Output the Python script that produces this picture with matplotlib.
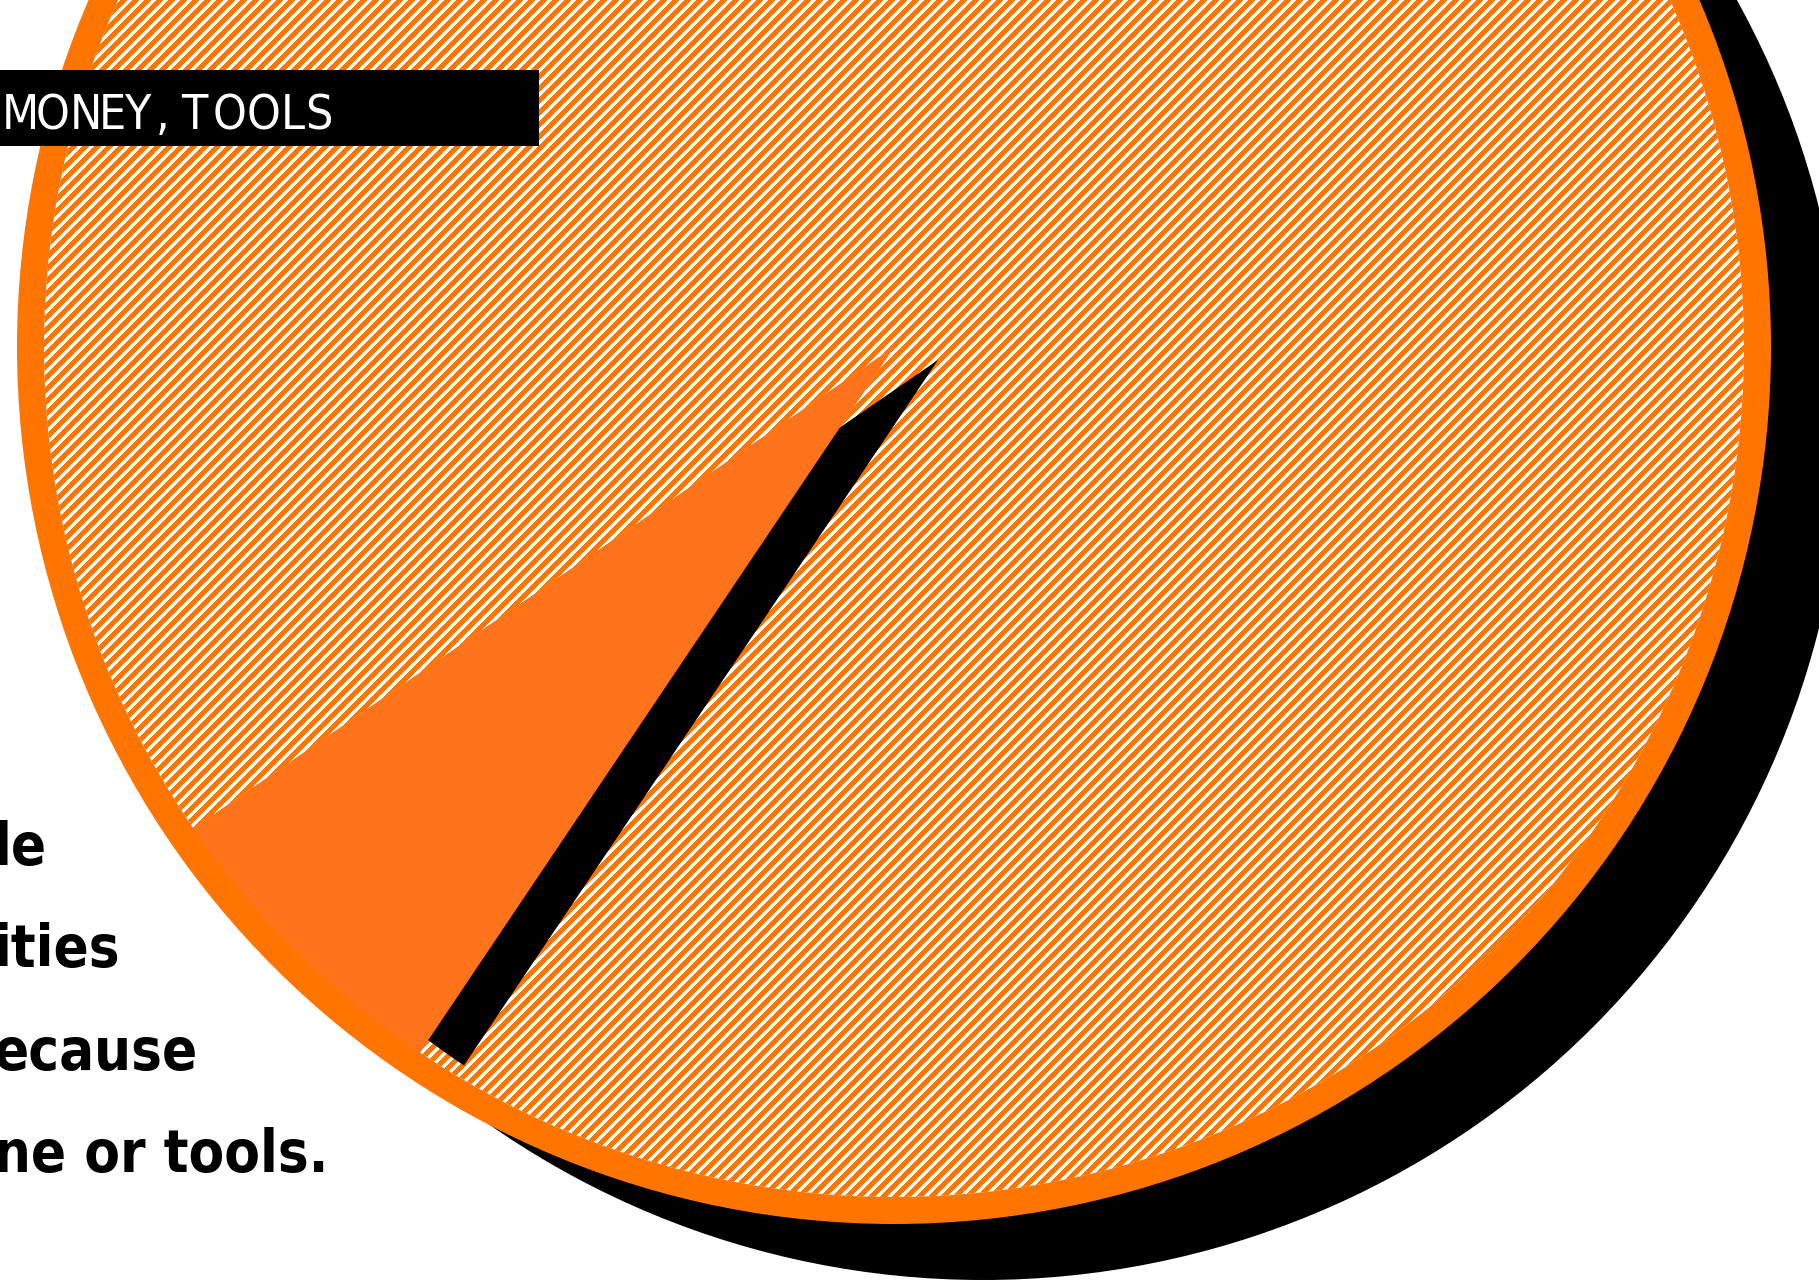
import os
import numpy as np
import matplotlib
matplotlib.use('Agg')
import matplotlib.pyplot as plt
from matplotlib import font_manager as fm
from matplotlib.patches import Circle, Rectangle
from matplotlib.collections import LineCollection
from matplotlib.textpath import TextPath

W, H = 1819, 1281
DPI = 72

# ---- data ----
shares = [6, 94]                      # highlighted slice (%), remainder (%)
slice_names = ['highlight', 'rest']
banner_text = 'MONEY, TOOLS'
body_lines = ['le', 'ities', 'ecause', 'ne or tools.']

ORANGE = '#FF7500'
WEDGE = '#FF731A'


def pick_font(want_bold):
    best = None
    for f in fm.fontManager.ttflist:
        key = (f.name + ' ' + os.path.basename(f.fname)).lower()
        narrow = any(s in key for s in ('narrow', 'condensed')) or \
            str(f.stretch) in ('condensed', 'semi-condensed', 'extra-condensed', 'ultra-condensed')
        if not narrow:
            continue
        if 'italic' in key or 'oblique' in key or f.style != 'normal':
            continue
        if 'cjk' in key or 'mono' in key or ('serif' in key and 'sans' not in key):
            continue
        w = f.weight if isinstance(f.weight, (int, float)) else fm.weight_dict.get(f.weight, 400)
        score = abs(w - (700 if want_bold else 450))
        if best is None or score < best[0]:
            best = (score, f.fname)
    if best:
        return fm.FontProperties(fname=best[1])
    return fm.FontProperties(family=['Roboto', 'DejaVu Sans'], weight='bold' if want_bold else 'normal')


def ink(s, fp, size=100):
    p = fp.copy()
    p.set_size(size)
    e = TextPath((0, 0), s, prop=p).get_extents()
    return e.width / size, e.height / size


fig = plt.figure(figsize=(W / DPI, H / DPI), dpi=DPI)
ax = fig.add_axes([0, 0, 1, 1])

cx, cy = 894, 934
R = 877
r_in = 850
shadow_c = (983, 863)
shadow_r = 862
wedge_shadow_off = (44, -13)
start = 214.5

# big shadow disc and outer orange ring
ax.add_patch(Circle(shadow_c, shadow_r, fc='black', ec='none', zorder=1))
ax.add_patch(Circle((cx, cy), R, fc=ORANGE, ec='none', zorder=2))

# remainder slice (white, striped)
wedges, _ = ax.pie(shares, center=(cx, cy), radius=r_in, startangle=start,
                   colors=['none', 'white'], wedgeprops=dict(linewidth=0))
wedges[0].set_visible(False)
wedges[1].set_zorder(3)

period = 12.0
cs = np.arange(-W, H + period, period)
segs = [[(-50, c - 50), (W + 50, c + W + 50)] for c in cs]
stripes = LineCollection(segs, colors=ORANGE, linewidths=4.0, zorder=3.5, antialiased=False)
ax.add_collection(stripes)
stripes.set_clip_path(wedges[1])

# shadow of highlighted slice
clip = Circle((cx, cy), r_in, transform=ax.transData)
sh, _ = ax.pie(shares, center=(cx + wedge_shadow_off[0], cy + wedge_shadow_off[1]), radius=r_in,
               startangle=start, colors=['black', 'none'], wedgeprops=dict(linewidth=0))
sh[1].set_visible(False)
sh[0].set_zorder(4)
sh[0].set_clip_path(clip)

# highlighted slice
hl, _ = ax.pie(shares, center=(cx, cy), radius=r_in, startangle=start,
               colors=[WEDGE, 'none'], wedgeprops=dict(linewidth=0))
hl[1].set_visible(False)
hl[0].set_zorder(5)

ax.set_xlim(0, W)
ax.set_ylim(0, H)
ax.set_aspect('equal')
ax.axis('off')

# body text fragments
fb = pick_font(True)
size_h = 60 / ink('l', fb)[1]
size_w = 325 / ink(body_lines[-1], fb)[0]
body_size = min(size_h, size_w)
fb.set_size(body_size)
baselines = [416, 314, 211, 109]
for line, yb in zip(body_lines, baselines):
    ax.text(-6, yb, line, fontproperties=fb, ha='left', va='baseline',
            color='black', zorder=6)

# banner
ax.add_patch(Rectangle((0, 1135), 539, 76, fc='black', ec='none', zorder=6))
fr = pick_font(False)
size_b = 35 / ink('M', fr)[1]
fr.set_size(size_b)
track = 5.0
space_px = 14.0
x = 2
for c in banner_text:
    if c == ' ':
        x += space_px
        continue
    ax.text(x, 1152, c, fontproperties=fr, color='white', ha='left',
            va='baseline', zorder=7)
    x += ink(c, fr)[0] * size_b + track

fig.savefig('out.png', dpi=DPI)
